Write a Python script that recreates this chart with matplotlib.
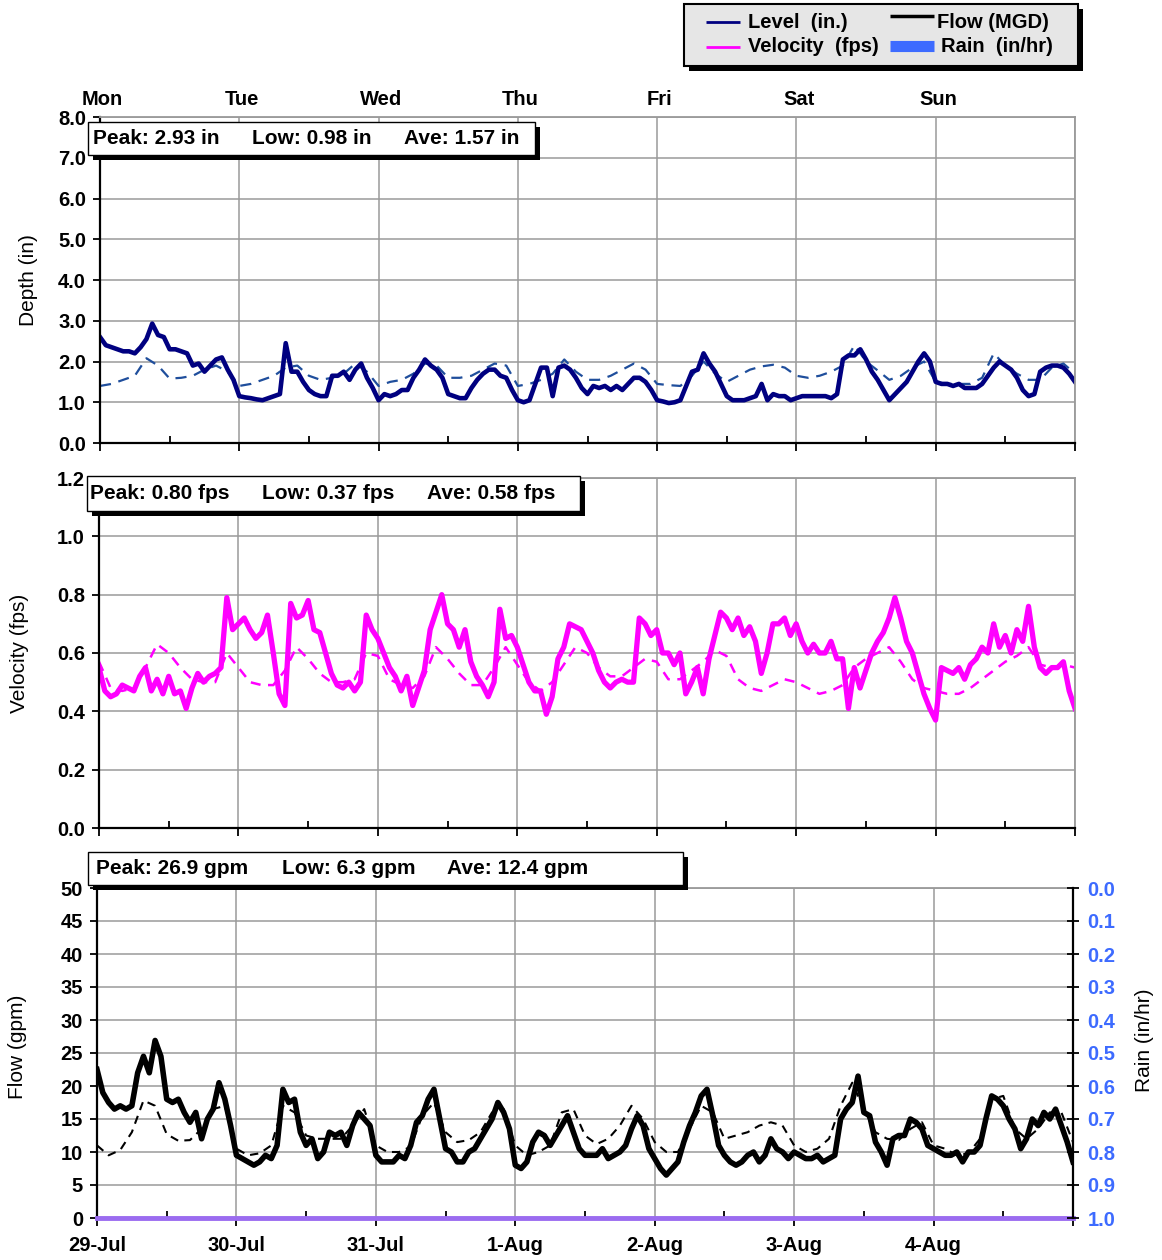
import matplotlib

matplotlib.use("Agg")

import matplotlib.pyplot as plt
import numpy as np
from matplotlib.lines import Line2D
from matplotlib.patches import Rectangle

plt.rcParams["font.family"] = ["Liberation Sans", "DejaVu Sans"]

W, H = 1162, 1260

day_names = ["Mon", "Tue", "Wed", "Thu", "Fri", "Sat", "Sun"]
date_labels = ["29-Jul", "30-Jul", "31-Jul", "1-Aug", "2-Aug", "3-Aug", "4-Aug"]

level_stats = ["Peak: 2.93 in", "Low: 0.98 in", "Ave: 1.57 in"]
velocity_stats = ["Peak: 0.80 fps", "Low: 0.37 fps", "Ave: 0.58 fps"]
flow_stats = ["Peak: 26.9 gpm", "Low: 6.3 gpm", "Ave: 12.4 gpm"]

# hourly readings, Mon 00:00 .. next Mon 00:00
level_in = [
    2.6, 2.4, 2.35, 2.3, 2.25, 2.25, 2.2, 2.35, 2.55, 2.93, 2.65, 2.6, 2.3,
    2.3, 2.25, 2.2, 1.9, 1.95, 1.75, 1.9, 2.05, 2.1, 1.8, 1.55, 1.15,
    1.12, 1.1, 1.07, 1.05, 1.1, 1.15, 1.2, 2.45, 1.75, 1.75, 1.5, 1.3,
    1.2, 1.15, 1.15, 1.65, 1.65, 1.75, 1.55, 1.8, 1.95, 1.6, 1.35, 1.05,
    1.2, 1.15, 1.2, 1.3, 1.3, 1.6, 1.8, 2.05, 1.9, 1.8, 1.6, 1.2,
    1.15, 1.1, 1.1, 1.35, 1.55, 1.7, 1.8, 1.8, 1.65, 1.6, 1.3, 1.05,
    1.0, 1.05, 1.45, 1.85, 1.85, 1.15, 1.85, 1.9, 1.8, 1.6, 1.35, 1.2,
    1.4, 1.35, 1.4, 1.3, 1.4, 1.3, 1.45, 1.6, 1.6, 1.5, 1.3, 1.05,
    1.02, 0.98, 1.0, 1.05, 1.4, 1.75, 1.8, 2.2, 1.95, 1.75, 1.45, 1.15,
    1.05, 1.05, 1.05, 1.1, 1.15, 1.45, 1.05, 1.2, 1.15, 1.15, 1.05, 1.1,
    1.15, 1.15, 1.15, 1.15, 1.15, 1.1, 1.2, 2.05, 2.15, 2.15, 2.3, 2.05,
    1.75, 1.55, 1.3, 1.05, 1.2, 1.35, 1.5, 1.75, 2.0, 2.2, 2.0, 1.5,
    1.45, 1.45, 1.4, 1.45, 1.35, 1.35, 1.35, 1.45, 1.65, 1.85, 2.0, 1.9,
    1.8, 1.6, 1.3, 1.15, 1.2, 1.75, 1.85, 1.9, 1.9, 1.85, 1.7, 1.5,
]
velocity_fps = [
    0.55, 0.47, 0.45, 0.46, 0.49, 0.48, 0.47, 0.52, 0.55, 0.47, 0.51, 0.46, 0.52,
    0.46, 0.47, 0.41, 0.48, 0.53, 0.5, 0.52, 0.53, 0.55, 0.79, 0.68, 0.7,
    0.72, 0.68, 0.65, 0.67, 0.73, 0.6, 0.46, 0.42, 0.77, 0.72, 0.73, 0.78,
    0.68, 0.67, 0.6, 0.53, 0.49, 0.48, 0.5, 0.47, 0.5, 0.73, 0.68, 0.65,
    0.6, 0.55, 0.52, 0.47, 0.52, 0.42, 0.48, 0.54, 0.68, 0.74, 0.8, 0.7,
    0.68, 0.62, 0.68, 0.57, 0.52, 0.49, 0.45, 0.5, 0.75, 0.65, 0.66, 0.62,
    0.56, 0.5, 0.47, 0.47, 0.39, 0.45, 0.58, 0.62, 0.7, 0.69, 0.68, 0.64,
    0.6, 0.54, 0.5, 0.48, 0.5, 0.51, 0.5, 0.5, 0.72, 0.7, 0.66, 0.68,
    0.6, 0.6, 0.56, 0.6, 0.46, 0.5, 0.55, 0.46, 0.58, 0.66, 0.74, 0.72,
    0.68, 0.72, 0.66, 0.69, 0.64, 0.53, 0.6, 0.7, 0.7, 0.72, 0.66, 0.7,
    0.64, 0.6, 0.63, 0.6, 0.6, 0.64, 0.58, 0.58, 0.41, 0.55, 0.48, 0.54,
    0.6, 0.64, 0.67, 0.72, 0.79, 0.72, 0.64, 0.6, 0.53, 0.46, 0.41, 0.37,
    0.55, 0.54, 0.53, 0.55, 0.51, 0.56, 0.58, 0.62, 0.6, 0.7, 0.62, 0.66,
    0.6, 0.68, 0.64, 0.76, 0.62, 0.55, 0.53, 0.55, 0.55, 0.57, 0.47, 0.41,
]
flow_gpm = [
    22.5, 19, 17.5, 16.5, 17, 16.5, 17, 22, 24.5, 22, 26.9, 24.5, 18,
    17.5, 18, 16, 14.5, 16, 12, 15, 16.5, 20.5, 18, 14, 9.5,
    9, 8.5, 8, 8.5, 9.5, 9, 11, 19.5, 17.5, 18, 13, 11,
    12, 9, 10, 13, 12.5, 13, 11, 14, 16, 15, 14, 9.5,
    8.5, 8.5, 8.5, 9.5, 9, 11, 14.5, 15.5, 18, 19.5, 15, 10.5,
    10, 8.5, 8.5, 10, 10.5, 12, 13.5, 15, 17.5, 16, 13.5, 8,
    7.5, 8.5, 11.5, 13, 12.5, 11, 12.5, 14, 15.5, 13, 10.5, 9.5,
    9.5, 9.5, 10.5, 9, 9.5, 10, 11, 13.5, 15.5, 14, 10.5, 9,
    7.5, 6.5, 7.5, 8.5, 11.5, 14, 16, 18.5, 19.5, 15.5, 11, 9.5,
    8.5, 8, 8.5, 9.5, 10, 8.5, 9.5, 12, 10.5, 10, 9, 10,
    9.5, 9, 9, 9.5, 8.5, 9, 9.5, 15, 16.5, 17.5, 21.5, 16,
    15.5, 11.5, 10, 8, 12, 12.5, 12.5, 15, 14.5, 13.5, 11, 10.5,
    10, 9.5, 9.5, 10, 8.5, 10, 10, 11, 15, 18.5, 18, 17,
    15, 13.5, 10.5, 12, 15, 14, 16, 15, 16.5, 14, 11.5, 8.5,
]

# dashed comparison curves, every 2 hours
level_dry_in = [
    1.4, 1.45, 1.55, 1.65, 2.08, 1.9, 1.58, 1.6, 1.65, 1.8, 1.9, 1.75,
    1.4, 1.45, 1.55, 1.65, 1.85, 1.9, 1.65, 1.55, 1.6, 1.7, 1.95, 1.75,
    1.4, 1.5, 1.55, 1.7, 1.95, 1.9, 1.6, 1.6, 1.65, 1.8, 1.95, 1.9,
    1.4, 1.45, 1.55, 1.7, 2.05, 1.75, 1.55, 1.55, 1.65, 1.8, 1.95, 1.8,
    1.45, 1.42, 1.4, 1.65, 2.0, 1.7, 1.5, 1.65, 1.8, 1.88, 1.92, 1.85,
    1.65, 1.6, 1.65, 1.75, 1.9, 2.4, 2.0, 1.78, 1.55, 1.65, 1.85, 2.0,
    1.5, 1.45, 1.45, 1.45, 1.6, 2.2, 1.9, 1.7, 1.55, 1.55, 1.85, 1.95,
    1.7,
]
velocity_dry_fps = [
    0.57, 0.48, 0.47, 0.48, 0.55, 0.63, 0.6, 0.55, 0.51, 0.5, 0.5, 0.6,
    0.55, 0.5, 0.49, 0.49, 0.54, 0.62, 0.58, 0.53, 0.5, 0.5, 0.51, 0.6,
    0.59, 0.51, 0.49, 0.48, 0.52, 0.62, 0.58, 0.53, 0.49, 0.49, 0.55, 0.62,
    0.56, 0.5, 0.47, 0.5, 0.56, 0.62, 0.6, 0.55, 0.52, 0.52, 0.55, 0.58,
    0.57, 0.51, 0.51, 0.54, 0.57, 0.61, 0.59, 0.51, 0.48, 0.47, 0.49, 0.51,
    0.5, 0.48, 0.46, 0.47, 0.49, 0.55, 0.58, 0.6, 0.62, 0.57, 0.51, 0.48,
    0.47, 0.46, 0.46, 0.48, 0.51, 0.54, 0.57, 0.59, 0.62, 0.56, 0.55, 0.56,
    0.55,
]
flow_dry_gpm = [
    11, 9.5, 10.3, 13, 17.8, 17, 12.7, 11.7, 11.8, 13.5, 16.5, 17,
    10.5, 9.5, 9.8, 11, 17, 16, 12.5, 12, 12, 12, 14, 16.5,
    11, 10, 10, 10.8, 15.5, 17.5, 13, 11.5, 11.8, 13, 16, 16.5,
    11, 9.5, 10, 11, 16, 16.5, 12.5, 11.2, 12, 14, 17, 15,
    11.5, 10, 10, 13.5, 17, 16, 12, 12.5, 13, 14, 14.5, 14,
    11, 10, 10.5, 12, 17, 20.5, 16.5, 13, 12, 11.8, 13.5, 14.5,
    11, 10.5, 9.5, 9.8, 12, 18, 18.5, 13.5, 12, 13.5, 16, 16,
    11.5,
]
rain_in_hr = [0.0] * 169

hours = np.arange(len(level_in))
hours_dry = np.arange(0, 169, 2)

GRID = "#9a9a9a"
RAIN_BLUE = "#3d6bff"
TICK_FONT = dict(fontsize=14.5, fontweight="bold")


def fig_rect(x0, y0, x1, y1):
    return (x0 / W, 1 - y1 / H), (x1 - x0) / W, (y1 - y0) / H


def axes_at(fig, left, top, right, bottom):
    return fig.add_axes([left / W, 1 - bottom / H, (right - left) / W, (bottom - top) / H])


def style_axes(ax, yticks, fmt):
    ax.set_xlim(0, 168)
    ax.set_xticks(np.arange(0, 169, 24))
    ax.set_xticks(np.arange(12, 168, 24), minor=True)
    ax.set_yticks(yticks)
    ax.set_ylim(yticks[0], yticks[-1])
    ax.set_yticklabels([fmt.format(v) for v in yticks], **TICK_FONT)
    ax.grid(True, which="major", color=GRID, linewidth=1.1)
    ax.set_axisbelow(True)
    for side in ("top", "right"):
        ax.spines[side].set_color(GRID)
        ax.spines[side].set_linewidth(1.3)
    for side in ("left", "bottom"):
        ax.spines[side].set_color("black")
        ax.spines[side].set_linewidth(1.6)
    ax.tick_params(axis="y", direction="out", length=5, width=1.3, pad=5)
    ax.tick_params(axis="x", which="major", direction="out", length=6, width=1.3)
    ax.tick_params(axis="x", which="minor", direction="in", length=5, width=1.3)


def stats_box(fig, x0, y0, x1, y1, texts, xs):
    pos, w, h = fig_rect(x0 + 5, y0 + 5, x1 + 5, y1 + 5)
    fig.add_artist(Rectangle(pos, w, h, transform=fig.transFigure, facecolor="black", edgecolor="none"))
    pos, w, h = fig_rect(x0, y0, x1, y1)
    fig.add_artist(Rectangle(pos, w, h, transform=fig.transFigure, facecolor="white", edgecolor="black", linewidth=1.0))
    yc = 1 - (y0 + y1) / 2 / H
    for text, x in zip(texts, xs):
        fig.text(x / W, yc, text, fontsize=15, fontweight="bold", va="center", ha="left")


fig = plt.figure(figsize=(W / 100, H / 100), dpi=100, facecolor="white")

# depth panel
ax1 = axes_at(fig, 100, 117, 1075, 443)
ax1.plot(hours_dry, level_dry_in, color="#1f4e9c", linewidth=1.6, dashes=(5, 3.5))
ax1.plot(hours, level_in, color="#000080", linewidth=3.3, solid_joinstyle="round")
style_axes(ax1, np.arange(0, 8.01, 1.0), "{:.1f}")
ax1.set_xticklabels([])
ax1.set_ylabel("Depth (in)", fontsize=15)
ax1.yaxis.set_label_coords(-0.064, 0.5)
for h, name in zip(np.arange(0, 168, 24), day_names):
    ax1.text(h + 0.4, 1.055, name, transform=ax1.get_xaxis_transform(), ha="center", va="center", **TICK_FONT)

# velocity panel
ax2 = axes_at(fig, 99, 478, 1075, 828)
ax2.plot(hours_dry, velocity_dry_fps, color="#ff00ff", linewidth=1.8, dashes=(4, 3))
ax2.plot(hours, velocity_fps, color="#ff00ff", linewidth=3.8, solid_joinstyle="round")
style_axes(ax2, np.round(np.arange(0, 1.21, 0.2), 1), "{:.1f}")
ax2.set_xticklabels([])
ax2.set_ylabel("Velocity (fps)", fontsize=15)
ax2.yaxis.set_label_coords(-0.072, 0.5)

# flow panel
ax3 = axes_at(fig, 97, 888, 1073, 1218)
ax3.plot(hours_dry, flow_dry_gpm, color="black", linewidth=1.5, dashes=(4, 3))
ax3.plot(hours, flow_gpm, color="black", linewidth=4.0, solid_joinstyle="round")
ax3.axhline(0, color="#9b6cf0", linewidth=3.5, zorder=5, clip_on=False)
style_axes(ax3, np.arange(0, 51, 5), "{:.0f}")
ax3.set_xticklabels(date_labels + [""], **TICK_FONT)
ax3.tick_params(axis="x", which="major", pad=7)
ax3.set_ylabel("Flow (gpm)", fontsize=15)
ax3.yaxis.set_label_coords(-0.072, 0.52)

ax3r = ax3.twinx()
ax3r.bar(hours, rain_in_hr, width=1.0, color=RAIN_BLUE, linewidth=0)
ax3r.set_ylim(1.0, 0.0)
rain_ticks = np.round(np.arange(0, 1.01, 0.1), 1)
ax3r.set_yticks(rain_ticks)
ax3r.set_yticklabels([f"{v:.1f}" for v in rain_ticks], color=RAIN_BLUE, **TICK_FONT)
ax3r.tick_params(axis="y", direction="inout", length=9, width=1.3, pad=6)
ax3r.spines["right"].set_color("black")
ax3r.spines["right"].set_linewidth(1.6)
for side in ("top", "left", "bottom"):
    ax3r.spines[side].set_visible(False)
ax3r.set_ylabel("Rain (in/hr)", fontsize=15)
ax3r.yaxis.set_label_coords(1.064, 0.54)

# statistics boxes
stats_box(fig, 88, 122, 535, 155, level_stats, [93, 252, 404])
stats_box(fig, 87, 476, 580, 511, velocity_stats, [90, 262, 427])
stats_box(fig, 88, 852, 683, 885, flow_stats, [96, 282, 447])

# legend
pos, w, h = fig_rect(689, 9, 1083, 71)
fig.add_artist(Rectangle(pos, w, h, transform=fig.transFigure, facecolor="black", edgecolor="none"))
pos, w, h = fig_rect(684, 4, 1078, 66)
fig.add_artist(Rectangle(pos, w, h, transform=fig.transFigure, facecolor="#e6e6e6", edgecolor="black", linewidth=1.5))
legend_items = [
    ("Level  (in.)", "#000080", 2.0, 706, 740, 748, 22),
    ("Velocity  (fps)", "#ff00ff", 2.0, 706, 740, 748, 47),
    ("Flow (MGD)", "black", 2.5, 890, 934, 937, 22),
    ("Rain  (in/hr)", RAIN_BLUE, 8.0, 890, 934, 941, 46),
]
for label, color, lw, x0, x1, xt, y in legend_items:
    yl = y - 6 if label.startswith("Flow") else y
    fig.add_artist(Line2D([x0 / W, x1 / W], [1 - yl / H, 1 - yl / H], transform=fig.transFigure,
                          color=color, linewidth=lw, solid_capstyle="butt"))
    fig.text(xt / W, 1 - y / H, label, fontsize=14.5, fontweight="bold", va="center", ha="left")

fig.savefig("out.png", dpi=100)
